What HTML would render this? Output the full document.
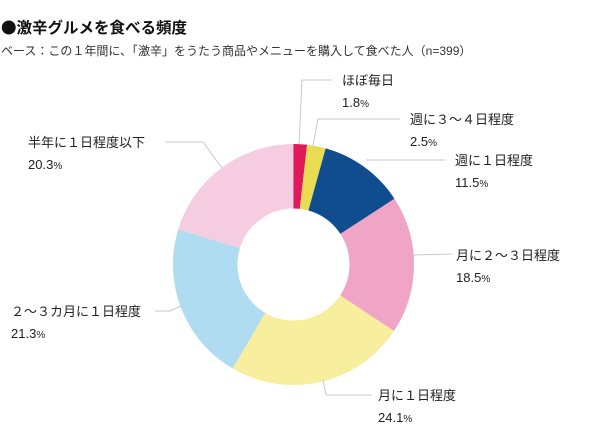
<!DOCTYPE html>
<html><head><meta charset="utf-8"><style>
body{margin:0;background:#fff;width:600px;height:440px;overflow:hidden;font-family:"Liberation Sans","Noto Sans CJK JP",sans-serif;color:#222}
</style></head><body>
<svg width="600" height="440" xmlns="http://www.w3.org/2000/svg" style="font-family:'Liberation Sans','Noto Sans CJK JP',sans-serif">
<text x="1" y="33" font-size="15.5" font-weight="bold" fill="#111"><tspan font-family="'Noto Sans CJK JP',sans-serif">●</tspan>激辛グルメを食べる頻度</text>
<text x="1" y="55" font-size="12" fill="#333">ベース：この１年間に、「激辛」をうたう商品やメニューを購入して食べた人（n=399）</text>
<g transform="rotate(-90 293.5 264.5)" fill="none" stroke-width="64.5">
<circle cx="293.5" cy="264.5" r="88.25" stroke="#e0195a" stroke-dasharray="9.98 600" stroke-dashoffset="0"/>
<circle cx="293.5" cy="264.5" r="88.25" stroke="#e8dc52" stroke-dasharray="13.86 600" stroke-dashoffset="-9.98"/>
<circle cx="293.5" cy="264.5" r="88.25" stroke="#104d8f" stroke-dasharray="63.77 600" stroke-dashoffset="-23.84"/>
<circle cx="293.5" cy="264.5" r="88.25" stroke="#f0a5c6" stroke-dasharray="102.58 600" stroke-dashoffset="-87.61"/>
<circle cx="293.5" cy="264.5" r="88.25" stroke="#f7ee9e" stroke-dasharray="133.63 600" stroke-dashoffset="-190.19"/>
<circle cx="293.5" cy="264.5" r="88.25" stroke="#b0dcf2" stroke-dasharray="118.11 600" stroke-dashoffset="-323.82"/>
<circle cx="293.5" cy="264.5" r="88.25" stroke="#f5cce0" stroke-dasharray="112.6 600" stroke-dashoffset="-441.93"/>
</g>
<g fill="none" stroke="#c8c8c8" stroke-width="1">
<polyline points="299,144 302,80 332,80"/>
<polyline points="313,146 318,119 400,119"/>
<polyline points="366,160 374,160 445,160"/>
<polyline points="413,255 452,254"/>
<polyline points="323,380 326,395 372,395"/>
<polyline points="181,306 170,311 155,311"/>
<polyline points="222,168 203,142 165,142"/>
</g>
<g font-size="13" fill="#222">
<text x="342" y="85">ほぼ毎日</text><text x="342" y="107">1.8<tspan font-size="10">%</tspan></text>
<text x="410" y="124">週に３〜４日程度</text><text x="410" y="146">2.5<tspan font-size="10">%</tspan></text>
<text x="455" y="165">週に１日程度</text><text x="455" y="187">11.5<tspan font-size="10">%</tspan></text>
<text x="456" y="260">月に２〜３日程度</text><text x="456" y="282">18.5<tspan font-size="10">%</tspan></text>
<text x="378" y="400">月に１日程度</text><text x="378" y="422">24.1<tspan font-size="10">%</tspan></text>
<text x="11" y="316">２〜３カ月に１日程度</text><text x="11" y="338">21.3<tspan font-size="10">%</tspan></text>
<text x="28" y="147">半年に１日程度以下</text><text x="28" y="169">20.3<tspan font-size="10">%</tspan></text>
</g>
</svg>
</body></html>
